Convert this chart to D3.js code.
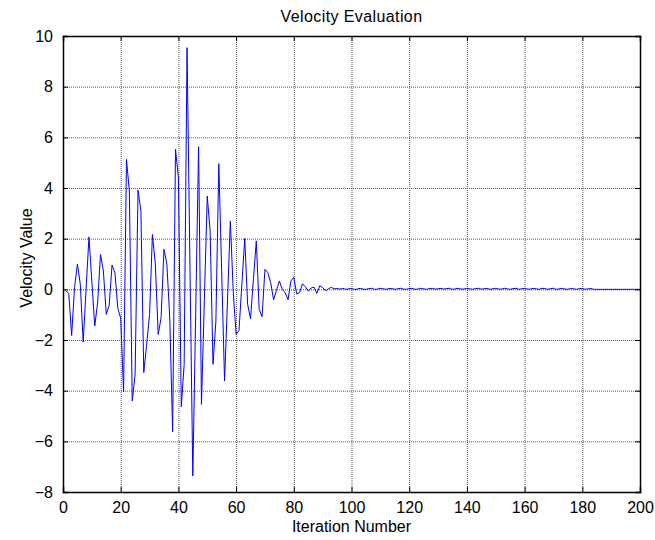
<!DOCTYPE html>
<html>
<head>
<meta charset="utf-8">
<script src="https://cdn.jsdelivr.net/npm/d3@7"></script>
<style>
  body { margin: 0; background: #fff; }
  text { font-family: Arial, "Liberation Sans", sans-serif; }
</style>
</head>
<body>
<div id="my_dataviz"></div>
<script>
// values per iteration (iteration 1..200)
const velocity = [
  -0.05, -0.17, -1.82, 0.07, 1.0, 0.2, -2.08, 0.0, 2.07, 0.3,
  -1.45, -0.53, 1.38, 0.72, -0.99, -0.63, 0.96, 0.66, -0.75, -1.14,
  -4.04, 5.13, 3.88, -4.41, -3.36, 3.92, 3.09, -3.29, -2.17, -1.0,
  2.17, 1.0, -1.78, -1.12, 1.58, 1.0, -1.1, -5.62, 5.53, 4.4,
  -4.63, -2.96, 9.54, 1.0, -7.37, -0.9, 5.63, -4.54, -0.4, 3.68,
  2.3, -2.96, -1.25, 4.96, 0.7, -3.62, -0.5, 2.7, -0.07, -1.78,
  -1.62, 0.2, 2.01, -0.59, -1.16, 0.4, 1.91, -0.79, -1.08, 0.79,
  0.66, 0.26, -0.41, -0.04, 0.33, 0.0, -0.13, -0.41, 0.33, 0.48,
  -0.18, -0.13, 0.22, 0.1, -0.07, 0.05, 0.09, -0.16, 0.14, 0.07,
  -0.06, 0.02, 0.08, 0.02, 0.03, 0.01, 0.04, 0.0, 0.02, 0.03,
  0.0, 0.01, 0.04, 0.01, 0.0, 0.03, 0.04, 0.0, 0.01, 0.04,
  0.02, 0.0, 0.03, 0.03, 0.0, 0.02, 0.04, 0.01, 0.0, 0.03,
  0.04, 0.0, 0.01, 0.04, 0.02, 0.0, 0.03, 0.04, 0.01, 0.02,
  0.04, 0.01, 0.03, 0.04, 0.0, 0.02, 0.04, 0.01, 0.01, 0.04,
  0.02, 0.0, 0.03, 0.04, 0.01, 0.02, 0.04, 0.0, 0.02, 0.04,
  0.01, 0.01, 0.04, 0.02, 0.0, 0.03, 0.04, 0.0, 0.02, 0.04,
  0.01, 0.01, 0.04, 0.02, 0.0, 0.04, 0.03, 0.0, 0.03, 0.04,
  0.0, 0.02, 0.04, 0.01, 0.0, 0.04, 0.02, 0.0, 0.03, 0.03,
  0.0, 0.02, 0.03, 0.0, 0.0, 0.0, 0.0, 0.0, 0.0, 0.0,
  0, 0, 0, 0, 0, 0, 0, 0, 0, 0
];
const xTicks = [0, 20, 40, 60, 80, 100, 120, 140, 160, 180, 200];
const yTicks = [-8, -6, -4, -2, 0, 2, 4, 6, 8, 10];

const width = 655;
const height = 540;
const margin = {top: 36, right: 15, bottom: 48, left: 63};
const innerWidth = width - margin.left - margin.right;
const innerHeight = height - margin.top - margin.bottom;
const fontSize = '16px';
const fontFamily = 'Arial, "Liberation Sans", sans-serif';

const xScale = d3.scaleLinear().domain([0, 200]).range([0, innerWidth]);
const yScale = d3.scaleLinear().domain([-8, 10]).range([innerHeight, 0]);

const svg = d3.select('#my_dataviz').append('svg')
  .attr('width', width)
  .attr('height', height);

const g = svg.append('g')
  .attr('transform', `translate(${margin.left},${margin.top})`);

// dotted grid
g.append('g').selectAll('line').data(xTicks.slice(1, -1)).join('line')
  .attr('x1', d => xScale(d) + 0.5).attr('x2', d => xScale(d) + 0.5)
  .attr('y1', 0).attr('y2', innerHeight)
  .attr('stroke', '#555')
  .attr('stroke-dasharray', '1,1');
g.append('g').selectAll('line').data(yTicks.slice(1, -1)).join('line')
  .attr('x1', 0).attr('x2', innerWidth)
  .attr('y1', d => yScale(d) + 0.5).attr('y2', d => yScale(d) + 0.5)
  .attr('stroke', '#555')
  .attr('stroke-dasharray', '1,1');

// the velocity line
const line = d3.line()
  .x((d, i) => xScale(i + 1))
  .y(d => yScale(d));

g.append('path')
  .datum(velocity)
  .attr('fill', 'none')
  .attr('stroke', '#0000ff')
  .attr('stroke-width', 1)
  .attr('d', line);

// axes with inward ticks, MATLAB style
const xAxis = g.append('g')
  .attr('transform', `translate(0,${innerHeight})`)
  .call(d3.axisBottom(xScale).tickValues(xTicks).tickSize(-5).tickPadding(10));
const xTop = g.append('g')
  .call(d3.axisTop(xScale).tickValues(xTicks).tickSize(-5).tickFormat(''));
const yAxis = g.append('g')
  .call(d3.axisLeft(yScale).tickValues(yTicks).tickSize(-5).tickPadding(10));
const yRight = g.append('g')
  .attr('transform', `translate(${innerWidth},0)`)
  .call(d3.axisRight(yScale).tickValues(yTicks).tickSize(-5).tickFormat(''));

[xAxis, xTop, yAxis, yRight].forEach(a => {
  a.select('.domain').attr('stroke', '#000').attr('stroke-width', 1.5);
  a.selectAll('.tick line').attr('stroke', '#000');
  a.selectAll('.tick text')
    .style('font-size', fontSize)
    .style('font-family', fontFamily)
    .attr('fill', '#000');
});

// labels
svg.append('text')
  .attr('x', margin.left + innerWidth / 2)
  .attr('y', 22)
  .attr('text-anchor', 'middle')
  .style('font-size', fontSize)
  .style('letter-spacing', '0.4px')
  .text('Velocity Evaluation');

svg.append('text')
  .attr('x', margin.left + innerWidth / 2)
  .attr('y', 532)
  .attr('text-anchor', 'middle')
  .style('font-size', fontSize)
  .text('Iteration Number');

svg.append('text')
  .attr('transform', `translate(32,${margin.top + innerHeight / 2 - 6}) rotate(-90)`)
  .attr('text-anchor', 'middle')
  .style('font-size', fontSize)
  .text('Velocity Value');
</script>
</body>
</html>
